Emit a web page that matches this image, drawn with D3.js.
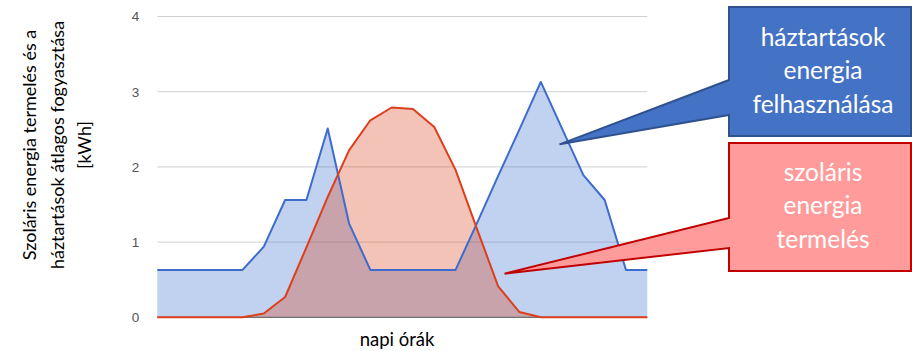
<!DOCTYPE html>
<html><head><meta charset="utf-8">
<script src="https://cdn.jsdelivr.net/npm/d3@7"></script>
<style>html,body{margin:0;padding:0;background:#fff;}svg{display:block;}</style>
</head><body>
<svg id="chart" width="912" height="351"></svg>
<script>
const hours = d3.range(0, 24);
const consumption = [0.63,0.63,0.63,0.63,0.63,0.94,1.56,1.56,2.51,1.25,0.63,0.63,0.63,0.63,0.63,1.25,1.88,2.5,3.13,2.51,1.89,1.56,0.63,0.63];
const solar = [0,0,0,0,0,0.05,0.27,0.93,1.6,2.22,2.62,2.79,2.77,2.53,1.96,1.18,0.41,0.07,0,0,0,0,0,0];
const yTicks = [0,1,2,3,4];
const yTitle = ["Szoláris energia termelés és a", "háztartások átlagos fogyasztása", "[kWh]"];
const xTitle = "napi órák";
const calloutBlue = ["háztartások", "energia", "felhasználása"];
const calloutRed = ["szoláris", "energia", "termelés"];

const svg = d3.select("#chart");
const x = d3.scaleLinear().domain([0, 23]).range([157.3, 647.3]);
const y = d3.scaleLinear().domain([0, 4]).range([317.3, 16.5]);

// gridlines
svg.append("g").selectAll("line").data(yTicks.filter(d => d > 0)).join("line")
  .attr("x1", x(0)).attr("x2", x(23)).attr("y1", d => y(d)).attr("y2", d => y(d))
  .attr("stroke", "#d0d0d0").attr("stroke-width", 1);

// tick labels
const yAxis = d3.axisLeft(y).tickValues(yTicks).tickSize(0).tickPadding(0).tickFormat(d3.format("d"));
const gy = svg.append("g").attr("transform", `translate(${x(0) - 18},0)`).call(yAxis);
gy.select(".domain").remove();
gy.selectAll("text").attr("font-family", "Liberation Sans, Arial, sans-serif").attr("font-size", 13.5).attr("fill", "#555");

const area = d3.area().x((d, i) => x(hours[i])).y0(y(0)).y1(d => y(d));
const line = d3.line().x((d, i) => x(hours[i])).y(d => y(d));

svg.append("path").datum(consumption).attr("d", area).attr("fill", "#3366cc").attr("fill-opacity", 0.3);
svg.append("path").datum(solar).attr("d", area).attr("fill", "#dc3912").attr("fill-opacity", 0.3);

// baseline
svg.append("line").attr("x1", x(0)).attr("x2", x(23)).attr("y1", y(0)).attr("y2", y(0))
  .attr("stroke", "#555").attr("stroke-width", 1);

svg.append("path").datum(consumption).attr("d", line).attr("fill", "none").attr("stroke", "#3d6ccc").attr("stroke-width", 2).attr("stroke-linejoin", "round");
svg.append("path").datum(solar).attr("d", line).attr("fill", "none").attr("stroke", "#dc3f1c").attr("stroke-width", 2).attr("stroke-linejoin", "round");

// y title
const yt = svg.append("text").attr("transform", "translate(0,145) rotate(-90)")
  .attr("text-anchor", "middle").attr("font-family", "Lato, sans-serif").attr("font-size", 18).attr("fill", "#000");
yt.selectAll("tspan").data(yTitle).join("tspan").attr("x", 0).attr("y", (d, i) => 36 + i * 27.5).text(d => d);

// x title
svg.append("text").attr("x", 397).attr("y", 346).attr("text-anchor", "middle")
  .attr("font-family", "Lato, sans-serif").attr("font-size", 18.5).attr("fill", "#000").text(xTitle);

// callouts
function callout(box, tip, base, fill, stroke, lines, baselines) {
  const [bx0, by0, bx1, by1] = box;
  const p = d3.path();
  p.moveTo(bx0, by0); p.lineTo(bx1, by0); p.lineTo(bx1, by1); p.lineTo(bx0, by1);
  p.lineTo(bx0, base[1]); p.lineTo(x(tip[0]), y(tip[1])); p.lineTo(bx0, base[0]); p.closePath();
  svg.append("path").attr("d", p.toString()).attr("fill", fill).attr("stroke", stroke).attr("stroke-width", 2).attr("stroke-linejoin", "miter");
  svg.append("g").selectAll("text").data(lines).join("text")
    .attr("x", (bx0 + bx1) / 2 + 3).attr("y", (d, i) => baselines[i]).attr("text-anchor", "middle")
    .attr("font-family", "Lato, sans-serif").attr("font-size", 24.5).attr("fill", "#fff").text(d => d);
}
callout([729, 7, 911, 136], [18.88, 2.3], [80, 115], "#4472c4", "#2f528f", calloutBlue, [46, 79, 113]);
callout([729, 143, 911, 271], [16.3, 0.58], [218, 248], "#ff9b9b", "#c00000", calloutRed, [181, 214, 248]);
</script>
</body></html>
